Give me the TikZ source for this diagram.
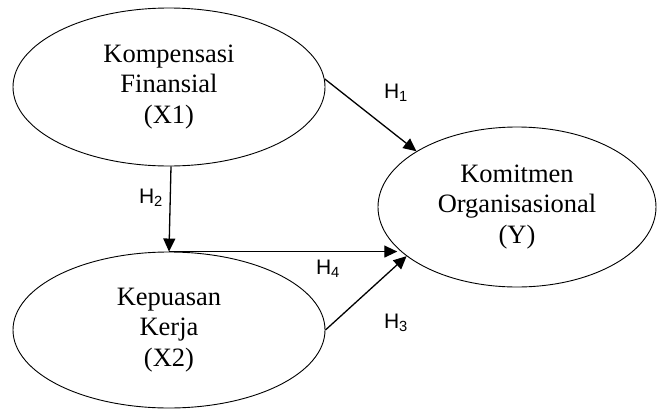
\documentclass[tikz,border=0pt]{standalone}
\usepackage{fontspec}
\setmainfont{Liberation Serif}
\newfontfamily\hfont{Liberation Sans}
\usetikzlibrary{shapes.geometric,arrows.meta}
\begin{document}
\begin{tikzpicture}[x=1pt,y=-1pt,
  var/.style={draw=black,line width=0.9pt,ellipse,inner sep=0pt,align=center,
    font=\fontsize{26.5}{30.5}\selectfont},
  link/.style={line width=1.3pt,-{Triangle[length=13pt,width=12pt]}},
  hyp/.style={font=\hfont\fontsize{21}{24}\selectfont,inner sep=0pt}]
\useasboundingbox (0,0) rectangle (657,410);
\node[var,minimum width=312pt,minimum height=158pt] (X1) at (169,87)
  {Kompensasi\\Finansial\\(X1)};
\node[var,minimum width=312pt,minimum height=156pt] (X2) at (169,330)
  {Kepuasan\\Kerja\\(X2)};
\node[var,minimum width=278pt,minimum height=160pt] (Y) at (517,207)
  {Komitmen\\Organisasional\\(Y)};
\draw[link] (X1.3) -- (Y.151);
\draw[link] ([xshift=2pt]X1.south) -- (X2.north);
\draw[link] (X2.north) -- (X2.north -| Y.199);
\draw[link] (X2.east) -- (Y.204);
\node[hyp] (h1) at (396,93) {H\textsubscript{1}};
\node[hyp] (h2) at (151,198) {H\textsubscript{2}};
\node[hyp] (h4) at (328,269) {H\textsubscript{4}};
\node[hyp] (h3) at (396,323) {H\textsubscript{3}};
\end{tikzpicture}
\end{document}
